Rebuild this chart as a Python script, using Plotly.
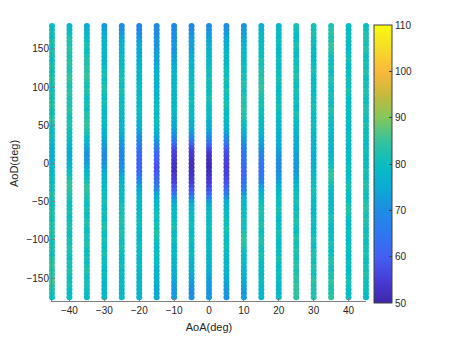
import plotly.graph_objects as go

# AoA columns and AoD rows (top to bottom)
aoa = [-45, -40, -35, -30, -25, -20, -15, -10, -5, 0, 5, 10, 15, 20, 25, 30, 35, 40, 45]
aod = list(range(180, -180, -5))

# measured value for every (AoA, AoD) cell, listed from AoD=180 down to -175
v_m45 = [80,81,82,80,83,82,81,83,82,80, 82,83,81,82,84,83,82,81,83,82,
         83,84,82,81,83,85,82,81,80,82, 79,78,77,76,75,76,77,78,79,80,
         81,80,82,81,83,82,81,80,82,83, 82,81,83,82,84,83,82,81,83,82,
         81,83,84,85,83,84,85,86,84,83, 82,80]
v_m40 = [78,79,80,82,83,82,84,83,82,83, 84,83,82,84,85,83,82,83,84,82,
         83,82,84,83,81,82,83,82,80,81, 79,78,77,76,75,76,77,78,80,81,
         82,84,85,84,83,82,81,80,81,82, 80,81,82,83,81,80,82,81,83,82,
         81,80,82,81,83,82,80,81,82,80, 79,80]
v_m35 = [75,76,78,79,80,82,81,80,82,83, 82,84,83,85,84,82,81,83,82,80,
         81,82,80,83,82,84,85,83,82,80, 78,76,74,72,71,72,73,75,77,79,
         80,82,84,85,83,82,81,80,82,81, 80,82,83,81,80,82,81,83,82,80,
         81,82,80,81,83,82,80,81,82,81, 80,79]
v_m30 = [72,73,75,76,78,77,78,79,78,77, 78,80,81,82,80,81,83,82,81,80,
         82,81,80,79,78,80,79,78,77,76, 74,73,72,71,70,70,71,72,74,76,
         77,78,79,80,81,80,82,81,80,82, 81,80,82,83,81,80,82,81,80,81,
         82,80,81,80,79,81,80,79,78,79, 78,79]
v_m25 = [70,71,72,74,76,77,78,77,79,78, 79,80,81,80,82,81,80,82,81,80,
         79,81,80,78,79,77,78,77,76,75, 73,72,71,70,69,69,70,71,72,74,
         76,77,78,79,80,79,80,81,82,81, 82,83,82,81,83,82,81,80,82,81,
         80,79,80,81,79,80,78,79,80,79, 78,79]
v_m20 = [68,69,70,71,73,74,75,74,75,76, 76,77,78,77,79,78,80,79,78,80,
         79,78,80,79,78,77,76,75,73,71, 69,67,65,63,62,61,61,61,62,64,
         67,70,73,75,76,77,78,79,78,80, 79,80,81,79,80,78,79,80,81,79,
         80,78,79,80,78,79,77,78,79,78, 77,78]
v_m15 = [69,70,70,71,72,71,72,73,74,73, 74,75,76,77,78,77,76,78,77,78,
         79,80,81,79,80,81,80,79,77,75, 72,69,66,63,61,60,59,58,59,60,
         62,64,66,70,74,76,78,79,80,81, 82,80,82,81,83,82,81,80,79,80,
         81,79,80,78,77,78,76,77,76,75, 74,75]
v_m10 = [68,69,70,70,71,72,71,72,73,74, 75,76,77,78,77,78,79,78,77,79,
         78,79,80,78,77,76,75,74,72,70, 66,62,58,56,55,54,53,53,53,54,
         55,56,58,60,64,70,74,77,78,80, 79,80,81,82,80,79,81,80,78,79,
         80,78,77,78,76,77,75,74,73,72, 72,73]
v_m05 = [69,70,71,72,73,74,73,75,76,77, 78,77,79,78,80,79,81,80,79,80,
         81,79,80,78,79,77,76,75,73,70, 66,61,57,55,54,53,52,52,53,53,
         54,55,57,59,62,68,73,77,78,79, 80,79,81,80,79,80,81,79,78,79,
         80,78,77,76,77,75,74,73,72,71, 70,71]
v_000 = [70,71,72,73,75,76,77,78,77,79, 78,80,81,79,82,80,81,79,80,82,
         81,80,79,80,78,77,76,75,73,70, 67,63,58,55,53,52,52,51,52,53,
         54,55,56,58,61,66,72,76,78,79, 80,79,80,81,79,80,78,79,80,79,
         78,77,78,76,77,75,74,73,72,72, 71,72]
v_p05 = [70,71,72,74,75,76,77,78,79,78, 79,80,81,80,82,81,80,82,81,80,
         81,82,80,79,80,78,77,76,74,71, 68,64,60,58,57,56,56,55,56,56,
         57,58,60,62,66,71,75,77,78,80, 79,81,80,82,81,80,79,80,81,79,
         78,79,77,78,76,77,75,74,73,72, 72,71]
v_p10 = [71,72,73,74,76,77,78,79,80,79, 80,81,80,82,81,83,82,81,82,83,
         82,83,84,82,83,81,80,78,76,74, 72,70,68,66,65,64,63,62,62,62,
         63,64,66,68,72,76,78,79,80,81, 80,82,81,80,82,83,84,83,82,81,
         80,79,80,78,77,78,76,75,74,73, 72,73]
v_p15 = [76,77,78,79,78,80,79,81,80,82, 81,82,83,82,84,83,85,84,83,82,
         81,82,80,81,79,80,78,79,77,76, 74,73,72,70,68,66,65,64,64,65,
         66,68,72,75,77,79,80,81,82,83, 82,81,83,82,80,81,82,83,81,80,
         82,81,80,79,80,78,79,80,79,78, 77,78]
v_p20 = [78,79,80,79,81,80,79,78,80,81, 80,79,81,80,82,81,80,79,80,81,
         80,82,81,79,80,78,79,78,77,76, 76,75,74,73,72,71,70,70,70,71,
         72,74,76,78,79,80,81,80,82,81, 80,79,81,80,82,81,80,79,80,81,
         80,82,81,79,80,81,79,80,78,79, 78,79]
v_p25 = [82,81,80,79,80,82,81,80,79,81, 80,82,81,83,82,81,80,82,81,80,
         81,79,80,82,81,80,79,78,77,76, 76,75,75,74,73,73,72,72,72,73,
         74,76,78,80,81,80,82,81,80,82, 81,83,82,81,80,82,83,81,82,83,
         82,81,83,84,82,83,84,83,85,84, 85,84]
v_p30 = [82,81,83,82,80,81,79,80,78,79, 80,81,82,80,79,80,81,79,80,81,
         80,82,81,80,79,80,81,80,79,78, 78,77,77,76,76,76,77,77,78,79,
         80,81,80,82,81,80,79,80,78,79, 80,81,80,79,80,81,82,81,80,82,
         83,82,81,83,82,81,83,84,82,83, 82,83]
v_p35 = [82,83,84,82,83,85,84,83,81,80, 81,82,80,81,83,82,81,80,82,81,
         80,81,83,82,80,81,79,80,79,78, 78,79,78,77,78,79,80,81,83,85,
         84,82,81,80,79,78,80,79,81,80, 82,81,80,79,80,81,80,82,81,80,
         81,82,83,82,81,83,82,84,83,82, 83,84]
v_p40 = [80,79,80,81,80,79,78,80,81,82, 80,79,81,80,82,81,80,82,81,80,
         79,80,81,80,79,80,78,79,80,81, 80,79,78,79,80,79,80,81,80,79,
         80,81,82,81,80,79,80,82,83,82, 81,80,79,80,81,80,79,80,81,80,
         79,80,81,80,79,80,81,82,81,80, 79,80]
v_p45 = [80,81,82,83,82,81,83,82,80,81, 82,81,83,82,80,82,81,83,82,81,
         80,82,83,82,81,80,82,81,80,81, 80,79,80,81,80,79,81,80,82,81,
         80,82,83,82,81,80,82,83,84,82, 81,83,82,81,80,82,81,80,82,81,
         82,81,80,82,81,83,82,81,80,81, 80,79]

columns = [v_m45, v_m40, v_m35, v_m30, v_m25, v_m20, v_m15, v_m10, v_m05, v_000,
           v_p05, v_p10, v_p15, v_p20, v_p25, v_p30, v_p35, v_p40, v_p45]

xs, ys, cs = [], [], []
for a, col in zip(aoa, columns):
    for d, v in zip(aod, col):
        xs.append(a)
        ys.append(d)
        cs.append(v)

# parula-like colormap
parula = [
    [0.0, 'rgb(62,38,168)'],
    [0.083, 'rgb(71,60,215)'],
    [0.167, 'rgb(68,95,245)'],
    [0.25, 'rgb(45,120,240)'],
    [0.333, 'rgb(30,140,228)'],
    [0.417, 'rgb(10,172,212)'],
    [0.5, 'rgb(8,190,192)'],
    [0.583, 'rgb(55,194,155)'],
    [0.667, 'rgb(130,200,90)'],
    [0.75, 'rgb(200,185,60)'],
    [0.833, 'rgb(250,185,60)'],
    [0.917, 'rgb(245,220,40)'],
    [1.0, 'rgb(249,251,14)'],
]

fig = go.Figure()
fig.add_trace(go.Scatter(
    x=xs, y=ys, mode='markers', cliponaxis=False,
    marker=dict(
        size=6, color=cs, colorscale=parula, cmin=50, cmax=110,
        line=dict(width=0),
        colorbar=dict(
            x=1.0, xanchor='left', xpad=8, y=0.498, yanchor='middle', ypad=10,
            thickness=18, len=298, lenmode='pixels',
            tickvals=[50, 60, 70, 80, 90, 100, 110],
            ticks='inside', ticklen=3, tickcolor='#404040',
            outlinecolor='#404040', outlinewidth=1,
            tickfont=dict(size=10, color='#262626'),
        ),
    ),
    showlegend=False,
))

# page body has an 8px margin, so the margins are shifted to compensate
fig.update_layout(
    width=452, height=339,
    margin=dict(l=44, r=94, t=18, b=46, autoexpand=False),
    paper_bgcolor='white', plot_bgcolor='white',
    font=dict(family='Liberation Sans, Arial, sans-serif', size=10, color='#262626'),
    xaxis=dict(
        range=[-45, 45], tickvals=[-40, -30, -20, -10, 0, 10, 20, 30, 40],
        showgrid=False, zeroline=False, showline=True, linecolor='#808080',
        linewidth=1, ticks='inside', ticklen=3, tickcolor='#808080',
        title=dict(text='AoA(deg)', font=dict(size=11), standoff=8),
    ),
    yaxis=dict(
        range=[-180, 180], tickvals=[-150, -100, -50, 0, 50, 100, 150],
        showgrid=False, zeroline=False, showline=True, linecolor='#808080',
        linewidth=1, ticks='inside', ticklen=3, tickcolor='#808080',
        title=dict(text='AoD(deg)', font=dict(size=11), standoff=7),
    ),
)

fig.write_html("out.html")
